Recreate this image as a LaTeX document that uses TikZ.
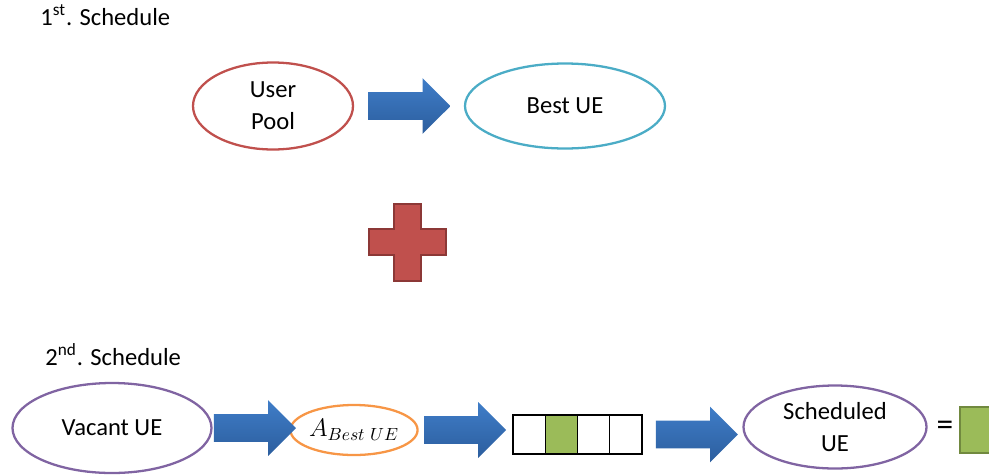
\documentclass[tikz,border=0pt]{standalone}
\usepackage{fontspec}
\setmainfont{Carlito}
\usetikzlibrary{shapes.geometric,shapes.arrows,calc}
\definecolor{ured}{HTML}{C0504D}
\definecolor{ureddark}{HTML}{8C3836}
\definecolor{ucyan}{HTML}{4BACC6}
\definecolor{upurple}{HTML}{8064A2}
\definecolor{uorange}{HTML}{F79646}
\definecolor{ugreen}{HTML}{9BBB59}
\definecolor{ugreendark}{HTML}{71893F}
\definecolor{arrowtop}{HTML}{3F7DC8}
\definecolor{arrowbot}{HTML}{2C5E9E}
\begin{document}
\begin{tikzpicture}[scale=0.2,
		oval/.style={draw, ellipse, line width=1.3pt, align=center},
		blockarrow/.style={single arrow, draw=none, top color=arrowtop, bottom color=arrowbot, anchor=tail,
			minimum height=1.64cm, inner ysep=0.27cm, single arrow head extend=0.28cm},
		cell/.style={draw, line width=0.6pt, minimum width=0.645cm, minimum height=0.78cm}]
		\tikzstyle{every node}+=[inner sep=0pt, font=\fontsize{14}{18}\selectfont]
		\useasboundingbox (0,0) rectangle (98.9,-47.4);
		\clip (0,0) rectangle (98.9,-47.4);
		% first schedule
		\draw (4.0,-2.5) node [anchor=base west] (title1) {1\textsuperscript{st}. Schedule};
		\draw (27.3,-10.6) node [oval, draw=ured, minimum width=3.2cm, minimum height=1.74cm] (pool) {User\\Pool};
		\draw (56.5,-10.6) node [oval, draw=ucyan, minimum width=4.0cm, minimum height=1.7cm] (best) {Best UE};
		\draw ($(pool.east)+(1.4,0)$) node [blockarrow] (arr1) {};
		% plus
		\filldraw [fill=ured, draw=ureddark, line width=1.2pt] (39.4,-20.4) -- (42.1,-20.4) -- (42.1,-22.9)
			-- (44.6,-22.9) -- (44.6,-25.5) -- (42.1,-25.5) -- (42.1,-28.1) -- (39.4,-28.1)
			-- (39.4,-25.5) -- (36.9,-25.5) -- (36.9,-22.9) -- (39.4,-22.9) -- cycle;
		% second schedule
		\draw (4.5,-36.5) node [anchor=base west] (title2) {2\textsuperscript{nd}. Schedule};
		\draw (11.2,-42.8) node [oval, draw=upurple, minimum width=3.98cm, minimum height=1.8cm] (vacant) {Vacant UE};
		\draw (35.4,-43.0) node [oval, draw=uorange, minimum width=2.3cm, minimum height=1.0cm] (abest) {$A_{Best\ UE}$};
		\foreach \i/\f in {1/white,2/ugreen,3/white,4/white}
			\draw ({51.3+3.225*\i-1.6125},-43.45) node [cell, fill=\f] (c\i) {};
		\draw (83.5,-42.7) node [oval, draw=upurple, minimum width=3.66cm, minimum height=1.66cm] (sched) {Scheduled\\UE};
		\draw (94.5,-42.8) node [font=\fontsize{19}{22}\selectfont] (eq) {=};
		\draw (98.3,-43.0) node [draw=ugreendark, fill=ugreen, line width=1.1pt, minimum size=0.92cm] (res) {};
		\draw ($(vacant.east)+(0.1,0)$) node [blockarrow] (arr2) {};
		\draw ($(abest.east)+(0.5,0)$) node [blockarrow] (arr3) {};
		\draw ($(c4.east)+(1.3,0)$) node [blockarrow] (arr4) {};
	\end{tikzpicture}
\end{document}
